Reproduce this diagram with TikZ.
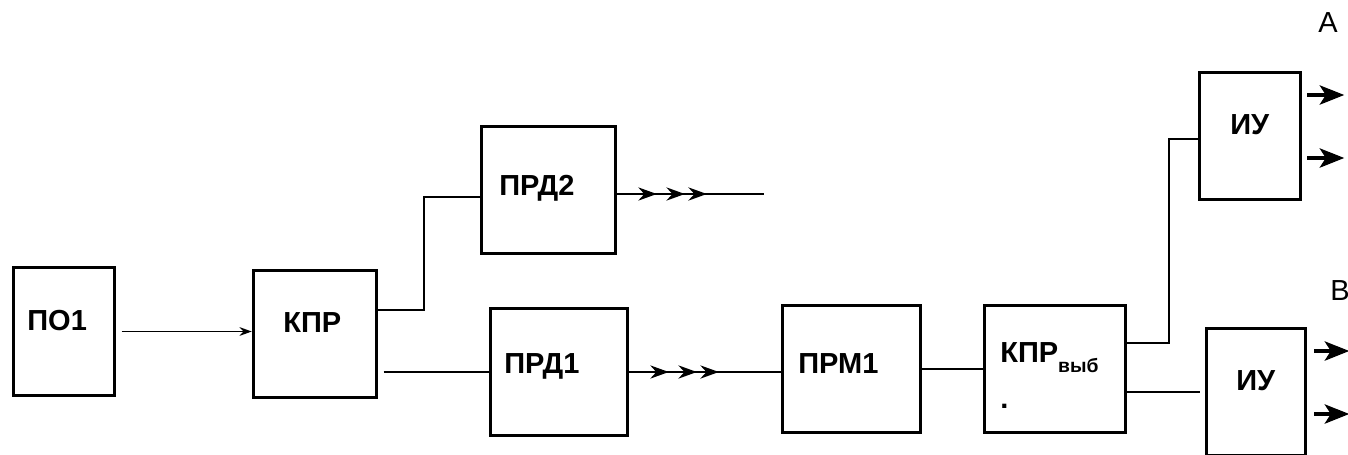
\documentclass[tikz,border=0pt]{standalone}
\usepackage{fontspec}
\setmainfont{Liberation Sans}
\usetikzlibrary{arrows.meta,calc,decorations.markings}

\begin{document}
\begin{tikzpicture}[x=0.02cm,y=-0.02cm,
    blk/.style={draw,line width=2pt,inner sep=0pt,minimum height=2.54cm},
    lbl/.style={anchor=base west,inner sep=0pt,font=\bfseries\fontsize{16.5}{19}\selectfont},
    wire/.style={line width=1.2pt},
    tips/.style={postaction={decorate},decoration={markings,
        mark=at position 22.5pt with {\arrow{Stealth[length=10.5pt,width=7.5pt]}},
        mark=at position 38.5pt with {\arrow{Stealth[length=10.5pt,width=7.5pt]}},
        mark=at position 51pt with {\arrow{Stealth[length=10.5pt,width=7.5pt]}}}},
    outarr/.style={line width=1.8pt,-{Stealth[length=14pt,width=11pt,inset=3.5pt]}}]
  \useasboundingbox (0,0) rectangle (1348,454);
  % blocks
  \node[blk,minimum width=2.02cm,minimum height=2.56cm] (po) at (64,331.5) {};
  \node[blk,minimum width=2.46cm] (kpr) at (315,334) {};
  \node[blk,minimum width=2.68cm] (prd2) at (548.5,190) {};
  \node[blk,minimum width=2.74cm] (prd1) at (559,372) {};
  \node[blk,minimum width=2.76cm] (prm) at (851.5,369) {};
  \node[blk,minimum width=2.82cm] (kprv) at (1055,369) {};
  \node[blk,minimum width=2.02cm] (iuA) at (1250,136) {};
  \node[blk,minimum width=1.98cm] (iuB) at (1256,392) {};
  % texts
  \node[lbl] (po-t) at (27,330) {ПО1};
  \node[lbl] (kpr-t) at (283,332) {КПР};
  \node[lbl] (prd2-t) at (499,195) {ПРД2};
  \node[lbl] (prd1-t) at (504,373) {ПРД1};
  \node[lbl] (prm-t) at (798,373) {ПРМ1};
  \node[lbl] (kprv-t) at (1000,362) {КПР\raisebox{-6pt}{\fontsize{11}{11}\selectfont выб}};
  \node[lbl] (kprv-d) at (1000,408) {.};
  \node[lbl] (iuA-t) at (1230,134) {ИУ};
  \node[lbl] (iuB-t) at (1236,390) {ИУ};
  \node[lbl,font=\fontsize{16.5}{19}\selectfont] (A) at (1318,32) {A};
  \node[lbl,font=\fontsize{16.5}{19}\selectfont] (B) at (1330,300) {B};
  % connections
  \draw[line width=0.8pt,-{Stealth[length=7pt,width=5pt]},shorten <=3pt] (po.east) -- (po.east -| kpr.west);
  \draw[wire] ($(kpr.east)+(0,-24)$) -- ++(46,0) |- ($(prd2.west)+(0,7)$);
  \draw[wire,shorten <=3pt] (prd1.west -| kpr.east) -- (prd1.west);
  \coordinate (end2) at (764,194);
  \draw[wire,tips] (prd2.east |- end2) -- (end2);
  \draw[wire,tips] (prd1.east) -- (prd1.east -| prm.west);
  \draw[wire] (prm.east) -- (kprv.west);
  \draw[wire] ($(kprv.east)+(0,-26)$) -- ++(42,0) |- ($(iuA.west)+(0,3)$);
  \draw[wire,shorten >=3pt] (kprv.east |- iuB.west) -- (iuB.west);
  \foreach \d in {-41,22} {
    \draw[outarr] ($(iuA.east)+(5,\d)$) -- ++(37,0);
    \draw[outarr] ($(iuB.east)+(7,\d)$) -- ++(35,0);
  }
\end{tikzpicture}
\end{document}
